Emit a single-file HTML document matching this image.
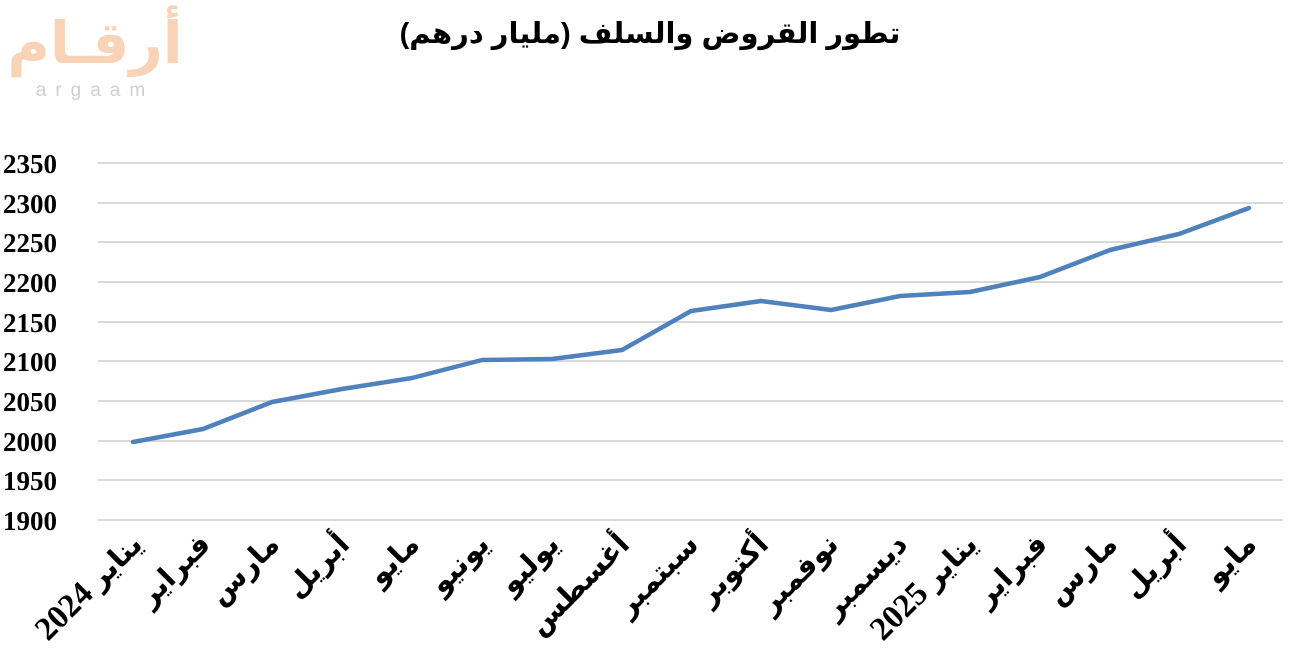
<!DOCTYPE html>
<html><head><meta charset="utf-8"><style>
html,body{margin:0;padding:0;background:#fff;}
svg{display:block;}
</style></head><body>
<svg width="1292" height="657" viewBox="0 0 1292 657" xmlns="http://www.w3.org/2000/svg">
<!-- logo -->
<text x="95" y="63" font-family="'Noto Sans CJK SC','DejaVu Sans',sans-serif" font-size="58" font-weight="bold" fill="#f8d3b5" text-anchor="middle" direction="rtl">أرقـام</text>
<text x="95" y="96" font-family="'Liberation Sans',sans-serif" font-size="19" fill="#cfcfcf" text-anchor="middle" letter-spacing="9">argaam</text>
<!-- title -->
<text x="650" y="43" font-family="'Liberation Sans','DejaVu Sans',sans-serif" font-size="29" font-weight="bold" fill="#000" text-anchor="middle" direction="rtl">تطور القروض والسلف (مليار درهم)</text>
<!-- grid -->
<g stroke="#d9d9d9" stroke-width="2">
<line x1="98" x2="1283" y1="163" y2="163"/>
<line x1="98" x2="1283" y1="203" y2="203"/>
<line x1="98" x2="1283" y1="242" y2="242"/>
<line x1="98" x2="1283" y1="282" y2="282"/>
<line x1="98" x2="1283" y1="322" y2="322"/>
<line x1="98" x2="1283" y1="361" y2="361"/>
<line x1="98" x2="1283" y1="401" y2="401"/>
<line x1="98" x2="1283" y1="441" y2="441"/>
<line x1="98" x2="1283" y1="480" y2="480"/>
<line x1="98" x2="1283" y1="520" y2="520"/>
</g>
<g font-family="'Liberation Serif',serif" font-size="27" font-weight="bold" fill="#000" text-anchor="start">
<text x="3" y="173">2350</text>
<text x="3" y="213">2300</text>
<text x="3" y="252">2250</text>
<text x="3" y="292">2200</text>
<text x="3" y="332">2150</text>
<text x="3" y="371">2100</text>
<text x="3" y="411">2050</text>
<text x="3" y="451">2000</text>
<text x="3" y="490">1950</text>
<text x="3" y="530">1900</text>
</g>
<polyline fill="none" stroke="#4f81bd" stroke-width="4.5" stroke-linejoin="round" stroke-linecap="round"
points="133,442 203,429 272,402 342,389 412,378 482,360 552,359 622,350 691,311 761,301 831,310 900,296 970,292 1040,277 1110,250 1179,234 1249,208"/>
<g font-family="'Liberation Serif','DejaVu Sans',serif" font-size="29" font-weight="bold" fill="#000" text-anchor="end">
<text transform="translate(144,546) rotate(-45)"><tspan font-family="'Liberation Serif',serif" font-weight="bold" font-size="33">2024</tspan> يناير</text>
<text transform="translate(212,546) rotate(-45)">فبراير</text>
<text transform="translate(281,546) rotate(-45)">مارس</text>
<text transform="translate(351,546) rotate(-45)">أبريل</text>
<text transform="translate(421,546) rotate(-45)">مايو</text>
<text transform="translate(491,546) rotate(-45)">يونيو</text>
<text transform="translate(561,546) rotate(-45)">يوليو</text>
<text transform="translate(631,546) rotate(-45)">أغسطس</text>
<text transform="translate(700,546) rotate(-45)">سبتمبر</text>
<text transform="translate(770,546) rotate(-45)">أكتوبر</text>
<text transform="translate(840,546) rotate(-45)">نوفمبر</text>
<text transform="translate(909,546) rotate(-45)">ديسمبر</text>
<text transform="translate(979,546) rotate(-45)"><tspan font-family="'Liberation Serif',serif" font-weight="bold" font-size="33">2025</tspan> يناير</text>
<text transform="translate(1049,546) rotate(-45)">فبراير</text>
<text transform="translate(1119,546) rotate(-45)">مارس</text>
<text transform="translate(1188,546) rotate(-45)">أبريل</text>
<text transform="translate(1258,546) rotate(-45)">مايو</text>
</g>
</svg>
</body></html>
